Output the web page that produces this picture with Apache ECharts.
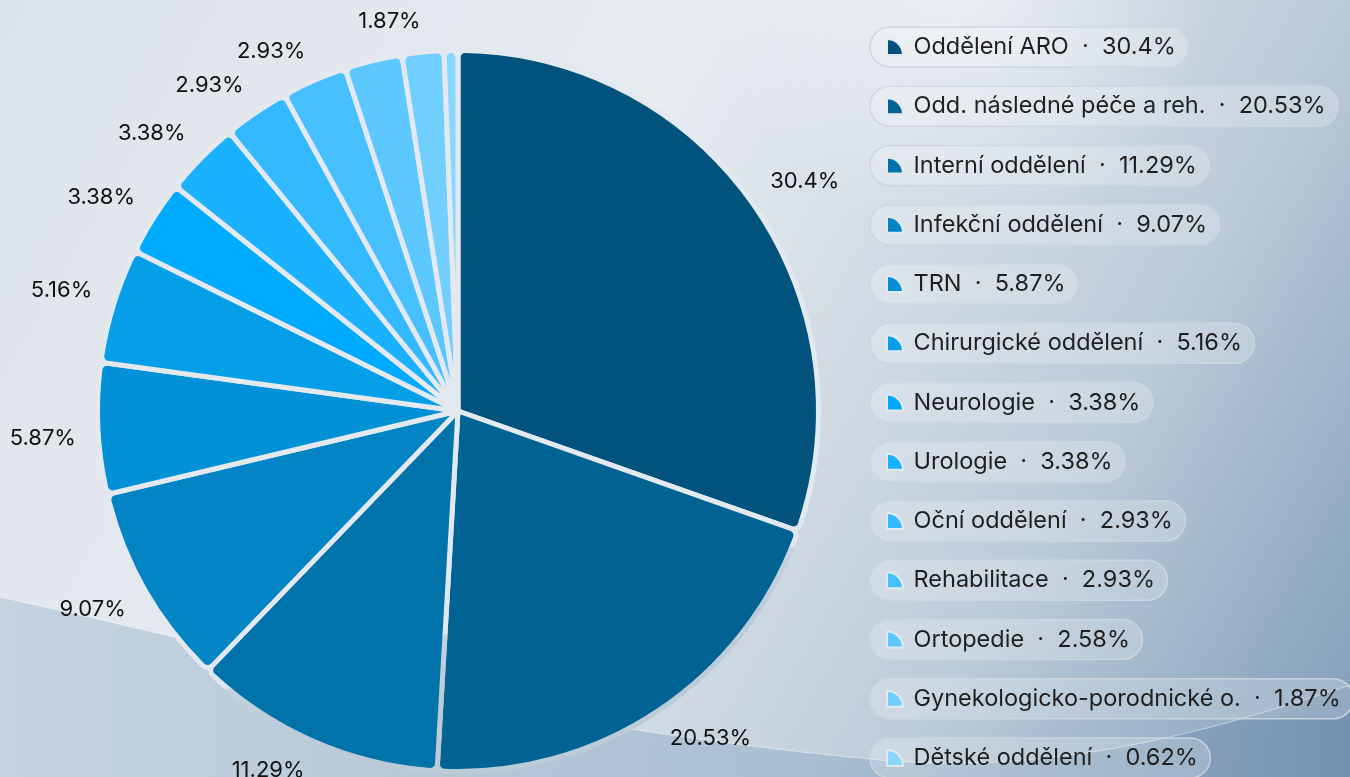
<!DOCTYPE html>
<html lang="cs" style="height: 100%">

<head>
  <meta charset="utf-8">
</head>

<body style="height: 100%; margin: 0">
  <div id="container" style="width: 1350px; height: 777px"></div>

  <script type="text/javascript" src="https://cdn.jsdelivr.net/npm/echarts@6/dist/echarts.min.js"></script>

  <script type="text/javascript">
    // data
    var departments = [
      'Oddělení ARO', 'Odd. následné péče a reh.', 'Interní oddělení', 'Infekční oddělení',
      'TRN', 'Chirurgické oddělení', 'Neurologie', 'Urologie', 'Oční oddělení',
      'Rehabilitace', 'Ortopedie', 'Gynekologicko-porodnické o.', 'Dětské oddělení'
    ];
    var shares = [30.4, 20.53, 11.29, 9.07, 5.87, 5.16, 3.38, 3.38, 2.93, 2.93, 2.58, 1.87, 0.62];
    var colors = [
      '#01527d', '#006394', '#0073ab', '#0284c5', '#0291d6', '#049fe8', '#00aaff',
      '#1ab1ff', '#33b9ff', '#47c0ff', '#5cc8ff', '#70cfff', '#87d7ff'
    ];

    var FONT = 'Inter';
    var CENTER = [458, 411];
    var RADIUS = 360.5;
    var legendLeft = 886;
    var legendTop = 34;
    var itemW = 17;
    var itemH = 16;
    var lineH = 26;
    var itemGap = 33.25;
    var legendFontSize = 23.5;

    var dom = document.getElementById('container');
    var myChart = echarts.init(dom, null, { renderer: 'canvas' });

    var seriesData = departments.map(function (name, i) {
      return { name: name, value: shares[i], itemStyle: { color: colors[i] } };
    });
    var labelData = departments.map(function (name, i) {
      return { name: name, value: shares[i] };
    });

    function linear(x, y, x2, y2, stops, global) {
      return {
        type: 'linear', x: x, y: y, x2: x2, y2: y2, global: !!global,
        colorStops: stops.map(function (s) { return { offset: s[0], color: s[1] }; })
      };
    }

    // sample a cubic bezier into points for a polygon
    function bezier(p0, p1, p2, p3, n) {
      var pts = [];
      for (var k = 0; k <= n; k++) {
        var t = k / n, u = 1 - t;
        pts.push([
          u * u * u * p0[0] + 3 * u * u * t * p1[0] + 3 * u * t * t * p2[0] + t * t * t * p3[0],
          u * u * u * p0[1] + 3 * u * u * t * p1[1] + 3 * u * t * t * p2[1] + t * t * t * p3[1]
        ]);
      }
      return pts;
    }

    // measure legend texts so the pill backgrounds fit
    var ctx = document.createElement('canvas').getContext('2d');
    ctx.font = legendFontSize + 'px ' + FONT;
    function legendText(name) {
      var i = departments.indexOf(name);
      return name + '  ·  ' + shares[i] + '%';
    }
    var pills = departments.map(function (name, i) {
      var w = ctx.measureText(legendText(name)).width;
      var cy = legendTop + i * (lineH + itemGap) + lineH / 2;
      var x = legendLeft - 16;
      return {
        type: 'rect',
        z: 1,
        silent: true,
        shape: { x: x, y: cy - 20, width: (legendLeft + itemW + 10 - x) + w + 13, height: 40, r: 20 },
        style: { fill: 'rgba(255,255,255,0.22)', stroke: 'rgba(205,214,224,0.9)', lineWidth: 1.5 }
      };
    });

    var curve = bezier([0, 597], [200, 640], [500, 725], [880, 760], 30)
      .concat(bezier([880, 760], [1060, 776], [1220, 728], [1350, 685], 20).slice(1));

    var background = [
      {
        type: 'rect',
        z: -10,
        silent: true,
        shape: { x: 0, y: 0, width: 1350, height: 777 },
        style: {
          fill: linear(0, 0, 1, 1, [[0, '#dce3ea'], [0.4, '#e8ecf1'], [0.75, '#bccbd9'], [1, '#7f9cb7']])
        }
      },
      {
        type: 'rect',
        z: -9,
        silent: true,
        shape: { x: 500, y: -200, width: 850, height: 420 },
        style: {
          fill: {
            type: 'radial', x: 0.55, y: 0.45, r: 0.6,
            colorStops: [
              { offset: 0, color: 'rgba(255,255,255,0.5)' },
              { offset: 1, color: 'rgba(255,255,255,0)' }
            ]
          }
        }
      },
      {
        type: 'polygon',
        z: -8,
        silent: true,
        shape: { points: curve.concat([[1350, 777], [0, 777]]) },
        style: {
          fill: linear(0, 0, 1, 0, [[0, 'rgba(196,210,223,0.97)'], [0.6, 'rgba(168,190,209,0.97)'], [1, 'rgba(116,146,176,0.97)']])
        }
      },
      {
        type: 'polyline',
        z: -7,
        silent: true,
        shape: { points: curve },
        style: {
          stroke: 'rgba(255,255,255,0.45)',
          lineWidth: 1,
          shadowBlur: 12,
          shadowColor: 'rgba(255,255,255,0.9)'
        }
      }
    ];

    // gap colour between slices follows the background behind the pie
    var gapColor = linear(300, 600, 330, 720, [
      [0, '#e3e9ef'], [0.55, '#dfe6ed'], [0.56, '#c6d3df'], [1, '#bccbd8']
    ], true);

    var option = {
      animation: false,
      textStyle: { fontFamily: FONT },
      graphic: background.concat(pills),
      legend: {
        orient: 'vertical',
        left: legendLeft,
        top: legendTop,
        padding: 0,
        itemWidth: itemW,
        itemHeight: itemH,
        itemGap: itemGap,
        icon: 'path://M0,16 L0,1 Q0,0 1,0 A16,16 0 0 1 16,16 Z',
        selectedMode: false,
        data: departments,
        formatter: legendText,
        textStyle: {
          fontFamily: FONT,
          fontSize: legendFontSize,
          lineHeight: lineH,
          color: '#1f1f1f',
          padding: [0, 0, 0, 5]
        }
      },
      series: [
        {
          type: 'pie',
          center: CENTER,
          radius: RADIUS,
          startAngle: 90,
          itemStyle: { borderRadius: 7, borderColor: gapColor, borderWidth: 5 },
          label: { show: false },
          labelLine: { show: false },
          data: seriesData
        },
        {
          // invisible ring that carries the percentage labels just outside the pie
          type: 'pie',
          center: CENTER,
          radius: [RADIUS + 17, RADIUS + 21],
          startAngle: 90,
          silent: true,
          minShowLabelAngle: 3,
          itemStyle: { color: 'rgba(0,0,0,0)' },
          label: {
            show: true,
            position: 'inside',
            formatter: '{c}%',
            fontFamily: FONT,
            fontSize: 22,
            color: '#111'
          },
          labelLine: { show: false },
          labelLayout: function (p) {
            var r = p.labelRect;
            var mx = r.x + r.width / 2;
            var my = r.y + r.height / 2;
            return {
              dx: (mx >= CENTER[0] ? 1 : -1) * r.width / 2,
              dy: (my < CENTER[1] ? -1 : 1) * 9,
              hideOverlap: true
            };
          },
          data: labelData
        }
      ]
    };

    myChart.setOption(option);
    window.addEventListener('resize', myChart.resize);
  </script>
</body>

</html>
